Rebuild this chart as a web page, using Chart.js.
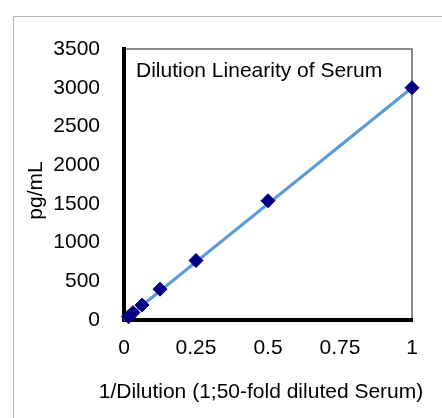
<!DOCTYPE html>
<html>
<head>
<meta charset="utf-8">
<script src="https://cdn.jsdelivr.net/npm/chart.js@4"></script>
<style>
  html, body { margin: 0; padding: 0; background: #ffffff; }
  #wrap { width: 442px; height: 418px; position: relative; }
</style>
</head>
<body>
<div id="wrap"><canvas id="c" width="442" height="418"></canvas></div>
<script>
// ---- data ----
const chartTitle = "Dilution Linearity of Serum";
const xAxisTitle = "1/Dilution (1;50-fold diluted Serum)";
const yAxisTitle = "pg/mL";
const dilutionX = [0.015625, 0.03125, 0.0625, 0.125, 0.25, 0.5, 1];
const concY = [42, 96, 193, 398, 768, 1540, 3000];
const trendX = [0, 1];
const trendY = [0, 3000];
const xTicks = [0, 0.25, 0.5, 0.75, 1];
const yTicks = [0, 500, 1000, 1500, 2000, 2500, 3000, 3500];

const FONT = "'Liberation Sans', Arial, sans-serif";

const framePlugin = {
  id: 'frame',
  beforeDraw(chart) {
    const ctx = chart.ctx;
    const a = chart.chartArea;
    ctx.save();
    // outer chart border
    ctx.strokeStyle = '#b4b4b4';
    ctx.lineWidth = 1;
    ctx.beginPath();
    ctx.moveTo(13.5, 418);
    ctx.lineTo(13.5, 16.5);
    ctx.lineTo(442, 16.5);
    ctx.stroke();
    // top and right plot border
    ctx.strokeStyle = '#8c8c8c';
    ctx.lineWidth = 2;
    ctx.beginPath();
    ctx.moveTo(a.left, a.top);
    ctx.lineTo(a.right, a.top);
    ctx.lineTo(a.right, a.bottom);
    ctx.stroke();
    ctx.restore();
  },
  afterDraw(chart) {
    const ctx = chart.ctx;
    const a = chart.chartArea;
    ctx.save();
    ctx.fillStyle = '#000000';
    ctx.font = "normal 21px " + FONT;
    // in-plot chart title
    ctx.textAlign = 'left';
    ctx.textBaseline = 'alphabetic';
    ctx.fillText(chartTitle, a.left + 12, a.top + 28);
    // x axis title
    ctx.textAlign = 'center';
    ctx.textBaseline = 'middle';
    ctx.fillText(xAxisTitle, (a.left + a.right) / 2 - 7, a.bottom + 72);
    // y axis title
    ctx.translate(36, (a.top + a.bottom) / 2 + 6);
    ctx.rotate(-Math.PI / 2);
    ctx.fillText(yAxisTitle, 0, 0);
    ctx.restore();
  }
};

new Chart(document.getElementById('c'), {
  type: 'scatter',
  data: {
    datasets: [
      {
        label: 'Measured',
        data: dilutionX.map((x, i) => ({ x: x, y: concY[i] })),
        pointStyle: 'rectRot',
        pointRadius: 7,
        pointHoverRadius: 7,
        backgroundColor: '#000080',
        borderColor: '#000080',
        borderWidth: 1,
        showLine: false,
        clip: false,
        order: 1
      },
      {
        label: 'Trend',
        data: trendX.map((x, i) => ({ x: x, y: trendY[i] })),
        showLine: true,
        borderColor: '#5b9bd5',
        borderWidth: 3,
        pointRadius: 0,
        fill: false,
        clip: false,
        order: 2
      }
    ]
  },
  options: {
    responsive: false,
    animation: false,
    devicePixelRatio: 1,
    layout: { padding: { top: 49, right: 30, left: 0, bottom: 0 } },
    plugins: {
      legend: { display: false },
      tooltip: { enabled: false },
      title: { display: false }
    },
    scales: {
      x: {
        type: 'linear',
        min: 0, max: 1,
        afterFit(scale) { scale.height = 98; },
        afterBuildTicks(scale) { scale.ticks = xTicks.map(v => ({ value: v })); },
        grid: { display: false, drawTicks: false },
        border: { display: true, color: '#000000', width: 4 },
        ticks: {
          padding: 16,
          color: '#000000',
          font: { family: FONT, size: 21 },
          maxRotation: 0,
          callback: v => String(v)
        },
        title: { display: false }
      },
      y: {
        type: 'linear',
        min: 0, max: 3500,
        afterFit(scale) { scale.width = 124; },
        afterBuildTicks(scale) { scale.ticks = yTicks.map(v => ({ value: v })); },
        grid: { display: false, drawTicks: false },
        border: { display: true, color: '#000000', width: 4 },
        ticks: {
          padding: 24,
          color: '#000000',
          font: { family: FONT, size: 21 },
          callback: v => String(v)
        },
        title: { display: false }
      }
    }
  },
  plugins: [framePlugin]
});
</script>
</body>
</html>
